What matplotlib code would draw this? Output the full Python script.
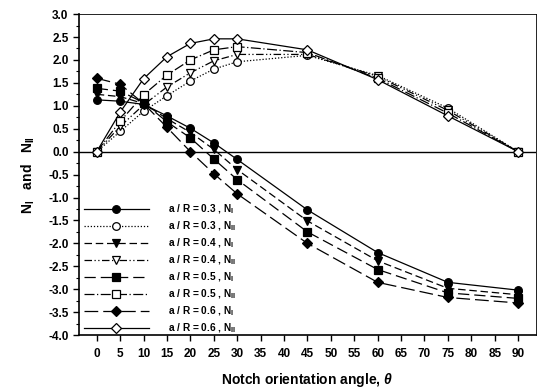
import matplotlib
matplotlib.use('Agg')
import matplotlib.pyplot as plt
from matplotlib.ticker import MultipleLocator

plt.rcParams['font.family'] = ['Liberation Sans', 'DejaVu Sans']
plt.rcParams['font.weight'] = 'bold'
plt.rcParams['mathtext.fontset'] = 'custom'
plt.rcParams['mathtext.rm'] = 'Liberation Sans:bold'
plt.rcParams['mathtext.it'] = 'Liberation Sans:bold:italic'

theta = [0, 5, 10, 15, 20, 25, 30, 45, 60, 75, 90]

# mode I (filled markers)
ni_03 = [1.13, 1.10, 1.03, 0.78, 0.51, 0.19, -0.17, -1.27, -2.20, -2.85, -3.02]
ni_04 = [1.25, 1.20, 1.05, 0.72, 0.42, 0.05, -0.39, -1.51, -2.38, -2.98, -3.12]
ni_05 = [1.38, 1.32, 1.07, 0.65, 0.30, -0.16, -0.61, -1.75, -2.57, -3.08, -3.20]
ni_06 = [1.60, 1.47, 1.05, 0.53, 0.00, -0.48, -0.92, -2.00, -2.85, -3.18, -3.30]

# mode II (open markers)
nii_03 = [0.0, 0.44, 0.88, 1.22, 1.54, 1.80, 1.96, 2.10, 1.66, 0.95, 0.0]
nii_04 = [0.0, 0.55, 1.02, 1.41, 1.72, 1.98, 2.12, 2.12, 1.64, 0.90, 0.0]
nii_05 = [0.0, 0.66, 1.24, 1.67, 2.00, 2.22, 2.29, 2.16, 1.60, 0.84, 0.0]
nii_06 = [0.0, 0.86, 1.59, 2.07, 2.36, 2.46, 2.46, 2.22, 1.57, 0.78, 0.0]

series = [
    ('a / R = 0.3 , N$_\\mathrm{I}$', ni_03, '-', 'o', 'k'),
    ('a / R = 0.3 , N$_\\mathrm{II}$', nii_03, (0, (1, 1.5)), 'o', 'w'),
    ('a / R = 0.4 , N$_\\mathrm{I}$', ni_04, (0, (6, 3)), 'v', 'k'),
    ('a / R = 0.4 , N$_\\mathrm{II}$', nii_04, (0, (6, 2, 1, 2, 1, 2)), 'v', 'w'),
    ('a / R = 0.5 , N$_\\mathrm{I}$', ni_05, (0, (9, 4)), 's', 'k'),
    ('a / R = 0.5 , N$_\\mathrm{II}$', nii_05, (0, (8, 2, 1, 2)), 's', 'w'),
    ('a / R = 0.6 , N$_\\mathrm{I}$', ni_06, (0, (11, 4)), 'D', 'k'),
    ('a / R = 0.6 , N$_\\mathrm{II}$', nii_06, '-', 'D', 'w'),
]

fig = plt.figure(figsize=(5.37, 3.91), dpi=100)
ax = fig.add_axes([0.147, 0.143, 0.851, 0.821])

ax.axhline(0, color='k', lw=1.0)

for label, vals, ls, mk, fc in series:
    ms = 4.8 if mk == 'D' else 5.5
    ax.plot(theta, vals, linestyle=ls, color='k', lw=0.9, marker=mk,
            markersize=ms, markerfacecolor=fc, markeredgecolor='k',
            markeredgewidth=0.9, label=label)

ax.set_xlim(-3.8, 93.8)
ax.xaxis.set_major_locator(MultipleLocator(5))
ax.yaxis.set_minor_locator(MultipleLocator(0.25))
ax.tick_params(axis='both', direction='out', labelsize=8.5, width=1, length=4)
ax.tick_params(axis='y', which='minor', direction='out', length=2.5, width=0.8)
ax.tick_params(axis='x', pad=5)
ax.set_yticks([v / 2 for v in range(-8, 7)])
ax.set_yticklabels(['%.1f' % (v / 2) for v in range(-8, 7)])
ax.set_ylim(-4.0, 3.0)
for lab in ax.get_xticklabels() + ax.get_yticklabels():
    lab.set_fontweight('bold')

for s in ['left', 'bottom']:
    ax.spines[s].set_linewidth(1.2)
for s in ['top', 'right']:
    ax.spines[s].set_linewidth(0.6)

ax.set_xlabel(r'Notch orientation angle, $\theta$', fontsize=10,
              fontweight='bold', labelpad=8)
ax.set_ylabel(r'N$_\mathrm{I}$   and   N$_\mathrm{II}$', fontsize=10,
              fontweight='bold', labelpad=8)

leg = ax.legend(loc='lower left', bbox_to_anchor=(-0.005, -0.022), frameon=False,
                fontsize=7.3, handlelength=6.4, handletextpad=1.9,
                labelspacing=0.33, borderpad=0.2)

fig.savefig('out.png', dpi=100)
